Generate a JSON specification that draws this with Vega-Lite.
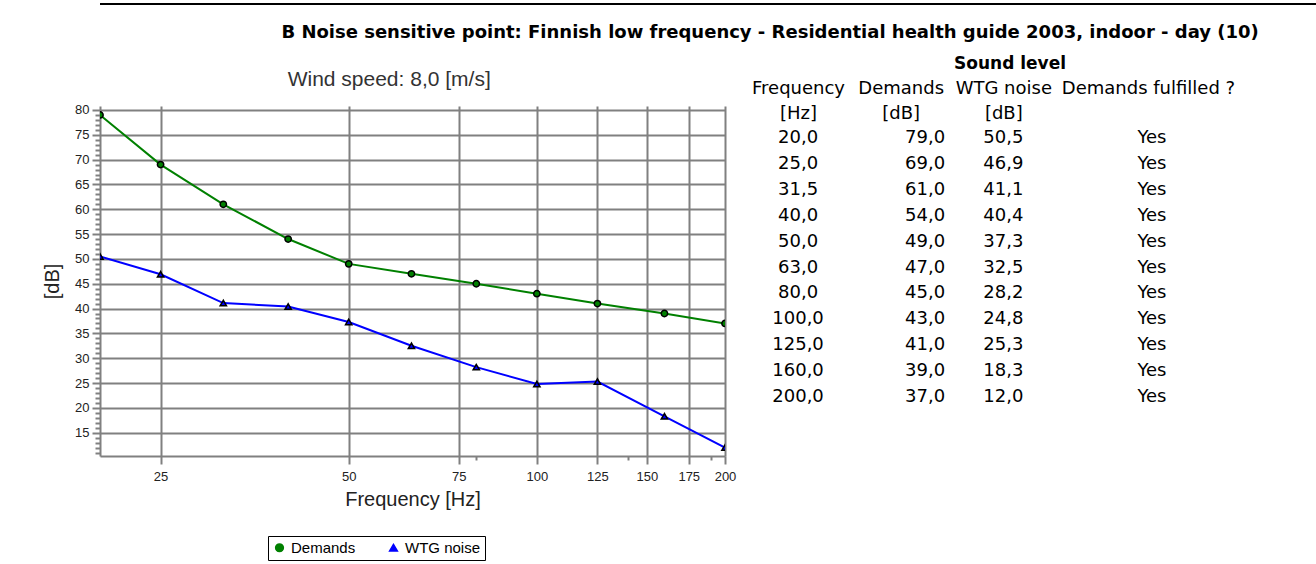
{
  "$schema": "https://vega.github.io/schema/vega-lite/v6.json",
  "padding": {"left": 42, "top": 3, "right": 0, "bottom": 0},
  "background": "#ffffff",
  "config": {
    "locale": {"number": {"decimal": ",", "thousands": ".", "grouping": [3], "currency": ["", ""]}},
    "view": {"stroke": null},
    "font": "Liberation Sans"
  },
  "data": {
    "values": [
      {"Frequency": 20, "Demands": 79.0, "WTG noise": 50.5, "Fulfilled": "Yes"},
      {"Frequency": 25, "Demands": 69.0, "WTG noise": 46.9, "Fulfilled": "Yes"},
      {"Frequency": 31.5, "Demands": 61.0, "WTG noise": 41.1, "Fulfilled": "Yes"},
      {"Frequency": 40, "Demands": 54.0, "WTG noise": 40.4, "Fulfilled": "Yes"},
      {"Frequency": 50, "Demands": 49.0, "WTG noise": 37.3, "Fulfilled": "Yes"},
      {"Frequency": 63, "Demands": 47.0, "WTG noise": 32.5, "Fulfilled": "Yes"},
      {"Frequency": 80, "Demands": 45.0, "WTG noise": 28.2, "Fulfilled": "Yes"},
      {"Frequency": 100, "Demands": 43.0, "WTG noise": 24.8, "Fulfilled": "Yes"},
      {"Frequency": 125, "Demands": 41.0, "WTG noise": 25.3, "Fulfilled": "Yes"},
      {"Frequency": 160, "Demands": 39.0, "WTG noise": 18.3, "Fulfilled": "Yes"},
      {"Frequency": 200, "Demands": 37.0, "WTG noise": 12.0, "Fulfilled": "Yes"}
    ]
  },
  "spacing": 13,
  "vconcat": [
    {
      "width": 1216,
      "height": 1,
      "title": {
        "text": "B Noise sensitive point: Finnish low frequency - Residential health guide 2003, indoor - day (10)",
        "orient": "bottom", "anchor": "end", "dx": -58, "offset": 19,
        "font": "DejaVu Sans", "fontSize": 18, "fontWeight": "bold", "color": "#000000"
      },
      "mark": {"type": "rule", "color": "#000000", "strokeWidth": 1.5},
      "encoding": {"y": {"datum": 1, "type": "quantitative", "scale": {"domain": [0, 1]}, "axis": null}}
    },
    {
      "hconcat": [
        {
          "width": 625,
          "height": 350,
          "title": {"text": "Wind speed: 8,0 [m/s]", "frame": "bounds", "anchor": "middle", "fontSize": 21, "fontWeight": "normal", "color": "#333333", "font": "Liberation Sans", "offset": 14},
          "transform": [{"fold": ["Demands", "WTG noise"], "as": ["Series", "dB"]}],
          "encoding": {
            "x": {
              "field": "Frequency", "type": "quantitative",
              "scale": {"type": "log", "domain": [20, 200], "nice": false},
              "axis": {
                "values": [25, 50, 75, 80, 100, 125, 140, 150, 175, 190, 200],
                "labelExpr": "(datum.value == 80 || datum.value == 140 || datum.value == 190) ? '' : format(datum.value, 'd')",
                "grid": true, "gridColor": "#808080", "gridWidth": 2,
                "gridOpacity": {"condition": {"test": "datum.value == 80 || datum.value == 140 || datum.value == 190", "value": 0}, "value": 1},
                "tickSize": {"condition": {"test": "datum.value == 80 || datum.value == 140 || datum.value == 190", "value": 4}, "value": 8},
                "tickColor": "#808080", "tickWidth": 2,
                "domainColor": "#808080", "domainWidth": 2,
                "labelFontSize": 13, "labelColor": "#222222", "labelPadding": 6, "labelFlush": false, "labelOverlap": false,
                "title": "Frequency [Hz]", "titleFontSize": 20, "titleFontWeight": "normal", "titleColor": "#222222", "titlePadding": 6
              }
            },
            "y": {
              "field": "dB", "type": "quantitative",
              "scale": {"domain": [10.3, 80.8], "nice": false, "zero": false},
              "axis": {
                "values": [11,12,13,14,15,16,17,18,19,20,21,22,23,24,25,26,27,28,29,30,31,32,33,34,35,36,37,38,39,40,41,42,43,44,45,46,47,48,49,50,51,52,53,54,55,56,57,58,59,60,61,62,63,64,65,66,67,68,69,70,71,72,73,74,75,76,77,78,79,80],
                "labelExpr": "datum.value % 5 == 0 ? format(datum.value, 'd') : ''",
                "grid": true, "gridColor": "#808080", "gridWidth": 2,
                "gridOpacity": {"condition": {"test": "datum.value % 5 == 0", "value": 1}, "value": 0},
                "tickSize": {"condition": {"test": "datum.value % 5 == 0", "value": 8}, "value": 5},
                "tickColor": "#808080", "tickWidth": 2,
                "domainColor": "#808080", "domainWidth": 2,
                "labelFontSize": 13, "labelColor": "#222222", "labelPadding": 3, "labelOverlap": false,
                "title": "[dB]", "titleFontSize": 20, "titleFontWeight": "normal", "titleColor": "#222222", "titlePadding": 12
              }
            },
            "color": {
              "field": "Series", "type": "nominal",
              "scale": {"domain": ["Demands", "WTG noise"], "range": ["#008000", "#0000ff"]},
              "legend": {"title": null, "orient": "none", "legendX": 168, "legendY": 532, "direction": "horizontal", "strokeColor": "#000000", "padding": 4, "labelFontSize": 15, "labelFont": "Liberation Sans", "labelColor": "#000000", "symbolSize": 60, "columnPadding": 30}
            }
          },
          "layer": [
            {"mark": {"type": "line", "strokeWidth": 2, "interpolate": "linear", "clip": true}},
            {
              "mark": {"type": "point", "filled": true, "size": 40, "stroke": "#000000", "strokeWidth": 1.5, "opacity": 1, "clip": true},
              "encoding": {
                "shape": {
                  "field": "Series", "type": "nominal",
                  "scale": {"domain": ["Demands", "WTG noise"], "range": ["circle", "triangle-up"]},
                  "legend": {"title": null, "orient": "none", "legendX": 168, "legendY": 532, "direction": "horizontal", "strokeColor": "#000000", "padding": 4, "labelFontSize": 15, "labelFont": "Liberation Sans", "labelColor": "#000000", "symbolSize": 60, "columnPadding": 30}
                }
              }
            }
          ]
        },
        {
          "width": 404,
          "height": 323,
          "title": {"text": "Sound level", "font": "DejaVu Sans", "fontSize": 17, "fontWeight": "bold", "color": "#000000", "anchor": "middle", "dx": 58, "offset": 6},
          "encoding": {
            "y": {"field": "Frequency", "type": "ordinal", "scale": {"type": "band", "paddingInner": 0, "paddingOuter": 0.735}, "axis": null}
          },
          "layer": [
            {
              "mark": {"type": "text", "font": "DejaVu Sans", "fontSize": 18, "color": "#000000", "align": "center", "baseline": "middle"},
              "encoding": {
                "x": {
                  "datum": "Frequency", "type": "nominal",
                  "scale": {"type": "point", "domain": ["Frequency", "Demands", "WTG noise", "Demands fulfilled ?"], "padding": 0.468},
                  "axis": {
                    "orient": "top", "domain": false, "ticks": false, "grid": false, "title": null, "labelAngle": 0,
                    "labelExpr": "datum.value == 'Frequency' ? ['Frequency', '[Hz]'] : datum.value == 'Demands' ? ['Demands', '[dB]'] : datum.value == 'WTG noise' ? ['WTG noise', '[dB]'] : ['Demands fulfilled ?', '']",
                    "labelFont": "DejaVu Sans", "labelFontSize": 18, "labelColor": "#000000", "labelLineHeight": 25, "labelPadding": 0, "labelLimit": 0,
                    "labelBaseline": "bottom", "offset": 9,
                    "labelOffset": {"condition": {"test": "datum.value == 'Demands fulfilled ?'", "value": 42}, "value": 0}
                  }
                },
                "text": {"field": "Frequency", "type": "quantitative", "format": ".1f"}
              }
            },
            {
              "mark": {"type": "text", "font": "DejaVu Sans", "fontSize": 18, "color": "#000000", "align": "right", "baseline": "middle", "dx": 44.5},
              "encoding": {
                "x": {"datum": "Demands", "type": "nominal"},
                "text": {"field": "Demands", "type": "quantitative", "format": ".1f"}
              }
            },
            {
              "mark": {"type": "text", "font": "DejaVu Sans", "fontSize": 18, "color": "#000000", "align": "center", "baseline": "middle"},
              "encoding": {
                "x": {"datum": "WTG noise", "type": "nominal"},
                "text": {"field": "WTG noise", "type": "quantitative", "format": ".1f"}
              }
            },
            {
              "mark": {"type": "text", "font": "DejaVu Sans", "fontSize": 18, "color": "#000000", "align": "center", "baseline": "middle", "dx": 46},
              "encoding": {
                "x": {"datum": "Demands fulfilled ?", "type": "nominal"},
                "text": {"field": "Fulfilled", "type": "nominal"}
              }
            }
          ]
        }
      ],
      "spacing": 25,
      "bounds": "flush"
    }
  ]
}
